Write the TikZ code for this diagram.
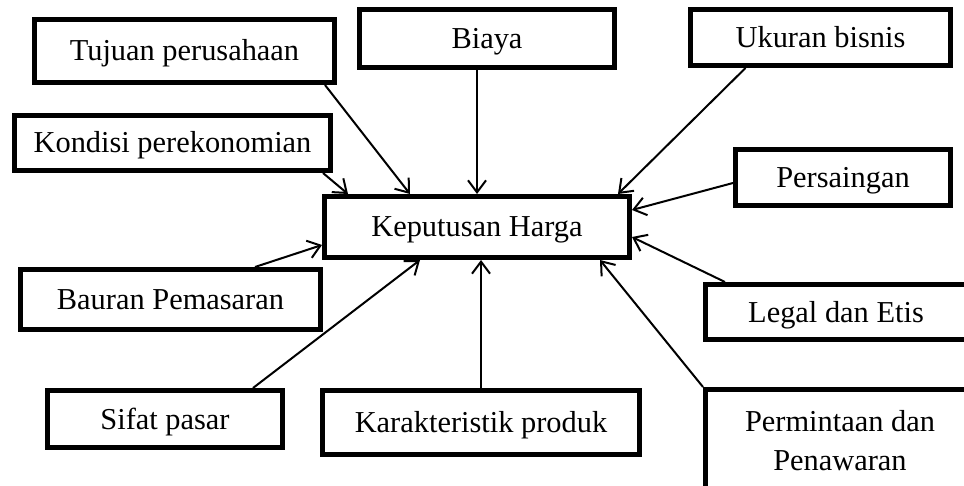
\documentclass[tikz,border=0pt]{standalone}
\usepackage{fontspec}
\setmainfont{Liberation Serif}
\usetikzlibrary{arrows.meta,calc}
\tikzset{
  factor/.style={draw, line width=2.5pt, inner sep=0pt, align=center, text height=10pt, text depth=0pt, font=\fontsize{15.2}{19.5}\selectfont},
  arr/.style={-{Straight Barb[length=6pt,width=9pt]}, line width=1pt}
}
\begin{document}
\begin{tikzpicture}[x=0.5pt, y=-0.5pt]
	\useasboundingbox (0,0) rectangle (964,486);
	\clip (0,0) rectangle (964,486);
	% kotak-kotak faktor
	\node[factor, minimum width=150pt, minimum height=31.5pt] (Tujuan) at (184.5,51) {Tujuan perusahaan};
	\node[factor, minimum width=127.5pt, minimum height=29pt] (Biaya) at (487,38.5) {Biaya};
	\node[factor, minimum width=130pt, minimum height=28pt] (Ukuran) at (820.5,37.5) {Ukuran bisnis};
	\node[factor, minimum width=158pt, minimum height=27.5pt] (Kondisi) at (172.5,143) {Kondisi perekonomian};
	\node[factor, minimum width=152.5pt, minimum height=30.5pt] (Keputusan) at (477,227) {Keputusan Harga};
	\node[factor, minimum width=107.5pt, minimum height=28pt] (Persaingan) at (843,177.5) {Persaingan};
	\node[factor, minimum width=150pt, minimum height=30pt] (Bauran) at (170.5,299.5) {Bauran Pemasaran};
	\node[factor, minimum width=130.5pt, minimum height=27.5pt] (Legal) at (836,312) {Legal dan Etis};
	\node[factor, minimum width=117.5pt, minimum height=28.5pt] (Sifat) at (165,419) {Sifat pasar};
	\node[factor, minimum width=158.5pt, minimum height=32pt] (Karakteristik) at (481,422.5) {Karakteristik produk};
	\node[factor, text height=, text depth=, minimum width=134.5pt, minimum height=51.5pt] (Permintaan) at (840,441) {Permintaan dan\\Penawaran};
	% panah ke keputusan
	\draw[arr] ($(Tujuan.south east)+(-12,0)$) -- ($(Keputusan.north west)+(88,0)$);
	\draw[arr] ($(Kondisi.south east)+(-10,0)$) -- ($(Keputusan.north west)+(26,0)$);
	\draw[arr] (Keputusan.north |- Biaya.south) -- (Keputusan.north);
	\draw[arr] ($(Ukuran.south)+(-75,0)$) -- ($(Keputusan.north east)+(-14,0)$);
	\draw[arr] ($(Persaingan.west)+(0,5.5)$) -- ($(Keputusan.east)+(0,-17)$);
	\draw[arr] ($(Legal.north west)+(22,0)$) -- ($(Keputusan.east)+(0,10)$);
	\draw[arr] (Permintaan.north west) -- ($(Keputusan.south east)+(-32,0)$);
	\draw[arr] (Karakteristik.north) -- (Karakteristik.north |- Keputusan.south);
	\draw[arr] ($(Sifat.north)+(88,0)$) -- ($(Keputusan.south west)+(98,0)$);
	\draw[arr] ($(Bauran.north)+(84.5,0)$) -- ($(Keputusan.west)+(0,18)$);
\end{tikzpicture}
\end{document}
